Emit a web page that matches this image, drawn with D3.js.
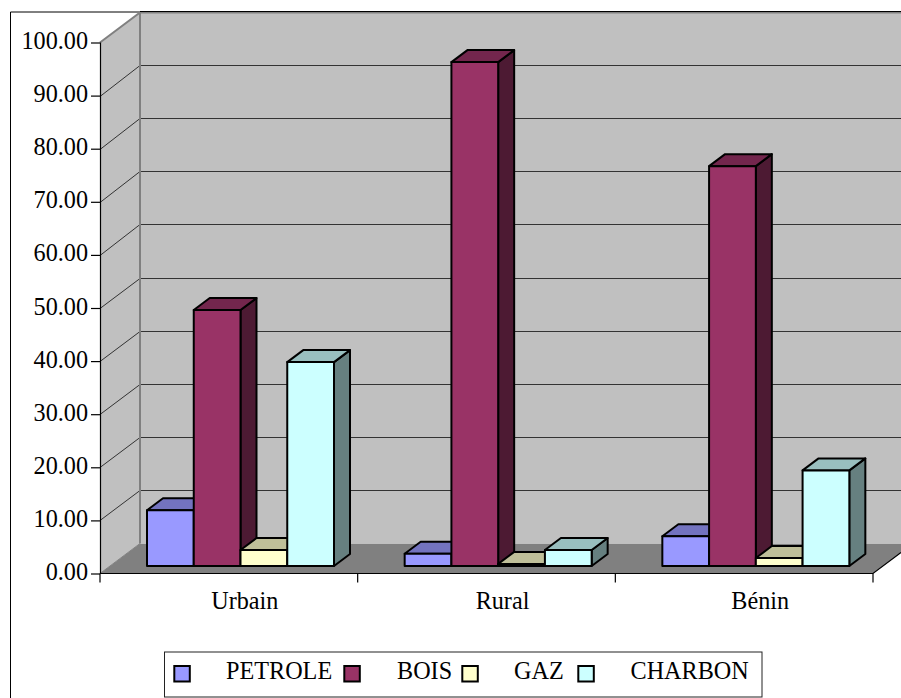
<!DOCTYPE html>
<html>
<head>
<meta charset="utf-8">
<script src="https://cdn.jsdelivr.net/npm/d3@7/dist/d3.min.js"></script>
<style>
html,body{margin:0;padding:0;background:#fff;overflow:hidden}
text{font-family:"Liberation Serif","Times New Roman",serif;font-size:24.2px;fill:#000}
</style>
</head>
<body>
<svg id="chart" width="901" height="698"></svg>
<script>
const categories = ["Urbain", "Rural", "Bénin"];
const seriesNames = ["PETROLE", "BOIS", "GAZ", "CHARBON"];
const petrole = [10.5, 2.3, 5.6];
const bois = [48.2, 94.9, 75.3];
const gaz = [3.0, 0.4, 1.5];
const charbon = [38.4, 3.0, 18.0];
const valueTicks = [0, 10, 20, 30, 40, 50, 60, 70, 80, 90, 100];
const fills = ["#9999FF", "#993366", "#FFFFCC", "#CCFFFF"];

const seriesValues = [petrole, bois, gaz, charbon];

const svg = d3.select("#chart");
const left = 100, right = 873, yZero = 573.5, yTop = 42.5;
const depthX = 40, depthY = -30;      // wall depth of the 3D box
const barDX = 16, barDY = -12;        // depth of each column
const baseDX = 10, baseDY = -7.5;     // columns stand slightly inside the floor

const y = d3.scaleLinear().domain([0, 100]).range([yZero, yTop]);
const x0 = d3.scaleBand().domain(categories).range([left, right]).paddingInner(0).paddingOuter(0);
const x1 = d3.scaleBand().domain(seriesNames).range([37, 37 + 187]);

const shade = (c, k) => { const r = d3.rgb(c); return d3.rgb(r.r * k, r.g * k, r.b * k).formatHex(); };
const poly = pts => "M" + pts.map(p => p.join(",")).join("L") + "Z";

// outer chart frame
svg.append("path").attr("d", `M10.5,698V12H901`).attr("fill", "none").attr("stroke", "#000").attr("stroke-width", 1);

// floor, left wall, back wall
const wallRight = 901 + 12;
svg.append("path").attr("d", poly([[left, yZero], [left + depthX, yZero + depthY], [wallRight, yZero + depthY], [right, yZero]])).attr("fill", "#808080");
svg.append("path").attr("d", poly([[left, yTop], [left + depthX, yTop + depthY], [left + depthX, yZero + depthY], [left, yZero]])).attr("fill", "#C0C0C0");
svg.append("rect").attr("x", left + depthX).attr("y", yTop + depthY).attr("width", wallRight - left - depthX).attr("height", yZero - yTop).attr("fill", "#C0C0C0");

// gridlines across the left and back walls
const grid = svg.append("g").attr("fill", "none").attr("stroke", "#333").attr("stroke-width", 1);
valueTicks.filter(v => v > 0 && v < 100).forEach(v => {
  const yy = Math.round(y(v)) + 0.5;
  const yb = Math.floor(y(v) + depthY) + 0.5;
  grid.append("path").attr("d", `M${left},${yy}L${left + depthX},${yb}H${wallRight}`);
});

// grey edges of the walls
const edges = svg.append("g").attr("fill", "none").attr("stroke", "#808080").attr("stroke-width", 2);
edges.append("path").attr("d", `M${left},${yTop}L${left + depthX},${yTop + depthY}H${wallRight}`);
edges.append("path").attr("d", `M${left + depthX},${yTop + depthY}V${yZero + depthY}`);
edges.append("path").attr("d", `M${left},${yZero}L${left + depthX},${yZero + depthY}`).attr("stroke-width", 1);
svg.append("path").attr("d", `M140,11.5H901`).attr("stroke", "#000").attr("stroke-width", 1);

// columns: each series in order so later ones overlap the sides of earlier ones
const bars = svg.append("g").attr("stroke", "#000").attr("stroke-width", 2).attr("stroke-linejoin", "round");
categories.forEach((cat, c) => {
  seriesNames.forEach((name, s) => {
    const v = seriesValues[s][c];
    const xa = x0(cat) + x1(name) + baseDX;
    const xb = xa + x1.bandwidth();
    const yb = y(0) + baseDY;
    const yt = y(v) + baseDY;
    const g = bars.append("g");
    g.append("path").attr("d", poly([[xb, yt], [xb + barDX, yt + barDY], [xb + barDX, yb + barDY], [xb, yb]])).attr("fill", shade(fills[s], 0.5));
    g.append("path").attr("d", poly([[xa, yt], [xa + barDX, yt + barDY], [xb + barDX, yt + barDY], [xb, yt]])).attr("fill", shade(fills[s], 0.75));
    g.append("rect").attr("x", xa).attr("y", yt).attr("width", xb - xa).attr("height", yb - yt).attr("fill", fills[s]);
  });
});

// value axis
const yAxis = d3.axisLeft(y).tickValues(valueTicks).tickFormat(d3.format(".2f")).tickSize(9).tickPadding(3);
const gy = svg.append("g").attr("transform", `translate(${left},0)`).call(yAxis);
gy.attr("font-family", null).attr("font-size", null);
gy.selectAll("path,line").attr("stroke", "#000").attr("stroke-width", 1.2);
gy.select(".domain").attr("d", `M0.5,${yTop}V${yZero}`);
gy.selectAll("text").attr("dy", "0.25em");

// category axis with ticks between the groups
const gx = svg.append("g").attr("stroke", "#000").attr("stroke-width", 1.2).attr("fill", "none");
gx.append("path").attr("d", `M${left},${yZero}H${right}L${right + 28},${yZero - 21}`);
d3.range(categories.length + 1).forEach(i => {
  const xt = left + i * x0.step();
  gx.append("line").attr("x1", xt).attr("x2", xt).attr("y1", yZero).attr("y2", yZero + 9);
});
svg.append("g").selectAll("text").data(categories).join("text")
  .attr("x", d => x0(d) + x0.bandwidth() / 2 + 16)
  .attr("y", 609).attr("text-anchor", "middle").text(d => d);

// legend
const swatchX = [174.3, 344.3, 462.3, 578.3];
const labelX = [226, 397, 514, 630.5];
svg.append("rect").attr("x", 164.5).attr("y", 652).attr("width", 597.5).attr("height", 45)
  .attr("fill", "#fff").attr("stroke", "#222").attr("stroke-width", 1);
seriesNames.forEach((name, s) => {
  svg.append("rect").attr("x", swatchX[s]).attr("y", 666).attr("width", 15.5).attr("height", 15.5)
    .attr("fill", fills[s]).attr("stroke", "#000").attr("stroke-width", 2);
  svg.append("text").attr("x", labelX[s]).attr("y", 679).text(name);
});
</script>
</body>
</html>
